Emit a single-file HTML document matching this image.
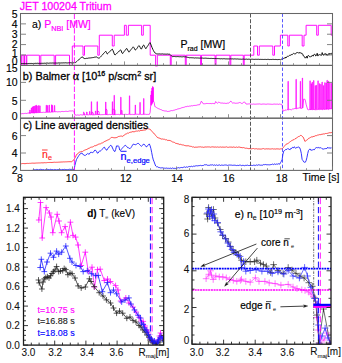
<!DOCTYPE html>
<html><head><meta charset="utf-8"><style>
html,body{margin:0;padding:0;background:#fff;}
svg{display:block;font-family:"Liberation Sans", sans-serif;}
</style></head><body>
<svg width="342" height="363" viewBox="0 0 342 363">
<rect width="342" height="363" fill="#fff"/>
<clipPath id="ca"><rect x="20.5" y="13.5" width="312.0" height="52.900000000000006"/></clipPath><clipPath id="cb"><rect x="20.5" y="65.4" width="312.0" height="52.8"/></clipPath><clipPath id="cc"><rect x="20.5" y="118.2" width="312.0" height="52.2"/></clipPath><polyline points="20.5,55.2 21.2,55.2 21.2,65.4 21.9,65.4 21.9,55.2 23.9,55.2 23.9,65.4 24.5,65.4 24.5,55.2 26.2,55.2 26.2,65.4 26.8,65.4 26.8,55.2 39.4,55.2 39.4,65.4 40.8,65.4 40.8,55.2 54.2,55.2 54.2,65.4 55.6,65.4 55.6,55.2 69.5,55.2 69.5,65.4 72.3,65.4 72.3,46 83,46 83,55.2 84.5,55.2 84.5,46 97.8,46 97.8,55.2 99.3,55.2 99.3,35.2 112.3,35.2 112.3,46 114.2,46 114.2,35.2 124.4,35.2 124.4,25.3 126.3,25.3 126.3,35.2 128.4,35.2 128.4,25.3 141.6,25.3 141.6,35.2 143.3,35.2 143.3,25.3 150.2,25.3 150.2,55.2 155.6,55.2 155.6,66.4 157.3,66.4 157.3,55.2 170.3,55.2 170.3,65.4 171.2,65.4 171.2,55.2 185.3,55.2 185.3,65.4 186.2,65.4 186.2,55.2 200.6,55.2 200.6,65.4 201.5,65.4 201.5,55.2 215.1,55.2 215.1,65.4 216,65.4 216,55.2 229.9,55.2 229.9,65.4 230.8,65.4 230.8,55.2 243.3,55.2 243.3,65.4 244.2,65.4 244.2,55.2 253.8,55.2 253.8,46 257.5,46 257.5,55.2 259.3,55.2 259.3,46 272.8,46 272.8,55.2 274.5,55.2 274.5,46 280.4,46 280.4,35.2 287.8,35.2 287.8,46 289.3,46 289.3,35.2 302.2,35.2 302.2,46 304,46 304,35.2 306.1,35.2 306.1,25.3 316.7,25.3 316.7,35.2 318.3,35.2 318.3,25.3 331.2,25.3 331.2,35.2 332.5,35.2" fill="none" stroke="#ff00ff" stroke-width="0.95" stroke-linejoin="round" clip-path="url(#ca)" stroke-linejoin="miter"/><polyline points="20.5,63.54 21.2,63.6 21.9,63.55 22.6,63.59 23.3,63.59 24,63.44 24.7,63.42 25.4,63.61 26.1,63.46 26.8,63.44 27.5,63.61 28.2,63.47 28.9,63.55 29.6,63.45 30.3,63.48 31,63.35 31.7,63.46 32.4,63.51 33.1,63.41 33.8,63.45 34.5,63.43 35.2,63.27 35.9,63.43 36.6,63.37 37.3,63.29 38,63.22 38.7,63.41 39.4,63.3 40.1,63.35 40.8,63.37 41.5,63.32 42.2,63.36 42.9,63.22 43.6,63.3 44.3,63.2 45,63.3 45.7,63.28 46.4,63.08 47.1,63.07 47.8,63.08 48.5,63.24 49.2,63.1 49.9,63.13 50.6,63.04 51.3,63.08 52,63.03 52.7,63.01 53.4,63.05 54.1,63.04 54.8,63.1 55.5,63.03 56.2,63.08 56.9,63.05 57.6,63.07 58.3,62.98 59,62.84 59.7,62.99 60.4,63.01 61.1,62.99 61.8,62.9 62.5,62.93 63.2,62.81 63.9,62.95 64.6,62.89 65.3,62.81 66,62.76 66.7,62.94 67.4,62.97 68.1,62.75 68.8,62.91 69.5,62.82 70.2,62.75 70.9,62.78 71.6,62.89 72.3,62.91 73,62.7 73.7,62.84 74.4,62.7 75.1,62.85 75.8,62.16 76.5,61.7 77.2,61.13 77.9,60.42 78.6,59.95 79.3,59.19 80,58.54 80.7,58.07 81.4,57.34 82.1,56.78 82.8,57.14 83.5,58.17 84.2,58.58 84.9,58.45 85.6,58.56 86.3,58.33 87,58.4 87.7,58.3 88.4,58.09 89.1,58.03 89.8,57.96 90.5,57.9 91.2,57.81 91.9,57.71 92.6,57.6 93.3,57.55 94,57.32 94.7,57.17 95.4,57.12 96.1,56.87 96.8,57.11 97.5,57.64 98.2,57.89 98.9,58.26 99.6,57.84 100.3,57.16 101,56.43 101.7,55.52 102.4,54.89 103.1,54.12 103.8,53.21 104.5,52.57 105.2,51.76 105.9,51.34 106.6,52.61 107.3,54.05 108,53.36 108.7,52.49 109.4,51.79 110.1,51.24 110.8,50.61 111.5,49.74 112.2,49.09 112.9,50.26 113.6,52.06 114.3,53.93 115,55.07 115.7,54.41 116.4,53.8 117.1,53.07 117.8,52.42 118.5,51.85 119.2,51.01 119.9,50.47 120.6,49.85 121.3,51.02 122,53.05 122.7,53.55 123.4,52.49 124.1,51.55 124.8,50.69 125.5,49.83 126.2,48.76 126.9,48.53 127.6,49.84 128.3,51.26 129,52.16 129.7,51.37 130.4,50.31 131.1,49.46 131.8,48.65 132.5,47.81 133.2,46.82 133.9,47.64 134.6,48.8 135.3,50.07 136,49.6 136.7,48.74 137.4,47.74 138.1,46.57 138.8,45.58 139.5,46.07 140.2,47.43 140.9,48.87 141.6,48.87 142.3,47.19 143,45.61 143.7,44.97 144.4,46.25 145.1,47.66 145.8,48.73 146.5,47.68 147.2,46.63 147.9,45.7 148.6,44.47 149.3,43.38 150,42.56 150.7,44 151.4,45.9 152.1,47.65 152.8,49.29 153.5,50.65 154.2,51.85 154.9,52.83 155.6,53.33 156.3,53.77 157,54 157.7,53.95 158.4,53.96 159.1,53.93 159.8,53.9 160.5,54.02 161.2,53.95 161.9,54.07 162.6,53.89 163.3,54.1 164,54.05 164.7,54.1 165.4,54.13 166.1,54.18 166.8,54.14 167.5,54.04 168.2,54.26 168.9,54.16 169.6,54.23 170.3,54.67 171,55.41 171.7,56.15 172.4,56.61 173.1,56.55 173.8,56.5 174.5,56.5 175.2,56.66 175.9,56.58 176.6,56.67 177.3,56.59 178,56.57 178.7,56.66 179.4,56.75 180.1,56.61 180.8,56.77 181.5,56.82 182.2,56.81 182.9,56.83 183.6,56.65 184.3,56.81 185,56.89 185.7,56.83 186.4,57.03 187.1,57.16 187.8,57.37 188.5,57.48 189.2,57.63 189.9,57.85 190.6,57.7 191.3,57.73 192,57.77 192.7,57.79 193.4,57.8 194.1,58.04 194.8,58.03 195.5,57.87 196.2,57.99 196.9,57.96 197.6,57.98 198.3,58.01 199,58.11 199.7,58.11 200.4,58.08 201.1,58.06 201.8,58.11 202.5,58.08 203.2,58.21 203.9,58.27 204.6,58.21 205.3,58.16 206,58.2 206.7,58.27 207.4,58.35 208.1,58.41 208.8,58.34 209.5,58.46 210.2,58.44 210.9,58.41 211.6,58.42 212.3,58.47 213,58.54 213.7,58.49 214.4,58.58 215.1,58.54 215.8,58.51 216.5,58.6 217.2,58.66 217.9,58.53 218.6,58.64 219.3,58.66 220,58.79 220.7,58.82 221.4,58.7 222.1,58.84 222.8,58.83 223.5,58.71 224.2,58.78 224.9,58.71 225.6,58.89 226.3,58.86 227,58.93 227.7,58.92 228.4,58.91 229.1,58.94 229.8,58.91 230.5,58.81 231.2,58.95 231.9,58.82 232.6,58.87 233.3,59.03 234,58.87 234.7,58.9 235.4,58.91 236.1,59.11 236.8,58.96 237.5,58.94 238.2,59.15 238.9,58.99 239.6,59.17 240.3,59.15 241,59.2 241.7,59.24 242.4,59.17 243.1,59.23 243.8,59.06 244.5,59.25 245.2,59.21 245.9,59.27 246.6,59.14 247.3,59.31 248,59.36 248.7,59.17 249.4,59.25 250.1,59.32 250.8,59.39 251.5,59.25 252.2,59.24 252.9,59.26 253.6,59.36 254.3,59.4 255,59.31 255.7,59.31 256.4,59.33 257.1,59.32 257.8,59.34 258.5,59.27 259.2,59.37 259.9,59.49 260.6,59.36 261.3,59.45 262,59.31 262.7,59.45 263.4,59.47 264.1,59.45 264.8,59.42 265.5,59.42 266.2,59.46 266.9,59.53 267.6,59.36 268.3,59.35 269,59.51 269.7,59.56 270.4,59.47 271.1,59.46 271.8,59.53 272.5,59.4 273.2,59.43 273.9,59.42 274.6,59.52 275.3,59.46 276,59.44 276.7,59.55 277.4,59.61 278.1,59.45 278.8,59.55 279.5,59.48 280.2,59.92 280.7,59.6 281.2,59.22 281.7,59.16 282.2,58.93 282.7,59.35 283.2,58.92 283.7,58.35 284.2,58.26 284.7,57.89 285.2,58.12 285.7,57.05 286.2,57.75 286.7,56.82 287.2,56.65 287.7,56.22 288.2,56.43 288.7,56.18 289.2,55.62 289.7,55.3 290.2,55.35 290.7,55.28 291.2,54.5 291.7,54.66 292.2,54.7 292.7,53.96 293.2,53.56 293.7,53.44 294.2,53.9 294.7,53.73 295.2,53.95 295.7,53.7 296.2,52.85 296.7,52.66 297.2,52.62 297.7,52.42 298.2,52.92 298.7,52.98 299.2,53.05 299.7,52.39 300.2,53.24 300.7,52.69 301.2,52.94 301.7,53.64 302.2,53.52 302.7,54.18 303.2,55.72 303.7,55.73 304.2,56.46 304.7,57.38 305.2,58.15 305.7,57.45 306.2,57.46 306.7,56.24 307.2,58.18 307.7,56.25 308.2,55.44 308.7,55.59 309.2,56.17 309.7,56.86 310.2,56.62 310.7,56.8 311.2,56.62 311.7,56.38 312.2,55.19 312.7,55.59 313.2,56.16 313.7,55.09 314.2,54.26 314.7,54.18 315.2,54.78 315.7,55.9 316.2,55.52 316.7,55.29 317.2,53.25 317.7,55.79 318.2,55.72 318.7,54.73 319.2,54.74 319.7,54.6 320.2,54.77 320.7,54.83 321.2,55.52 321.7,54.78 322.2,52.58 322.7,54.56 323.2,54.64 323.7,55.39 324.2,53.89 324.7,54.06 325.2,53.94 325.7,53.61 326.2,55.33 326.7,54.27 327.2,54.63 327.7,55.37 328.2,53.97 328.7,54.3 329.2,53.24 329.7,54.57 330.2,54.25 330.7,53.54 331.2,53.19 331.7,54.36 332.2,54.16" fill="none" stroke="#111" stroke-width="1.0" stroke-linejoin="round" clip-path="url(#ca)"/><polyline points="20.5,113.77 21.3,113.8 22.1,113.59 22.9,113.59 23.7,113.65 24.5,113.44 25.3,113.29 26.1,113.51 26.9,113.38 27.7,113.17 28.5,113.12 29.2,113.14 29.3,112.5 30.1,113.3 30.2,113.14 29.3,113.15 29.7,113.11 29.8,110 30.1,110 30.2,113.11 30.1,113.14 30.9,112.95 31.2,113.04 31.3,108 31.6,108 31.7,113.04 31.7,112.82 32.1,113 32.2,107 32.7,107 32.8,113 32.5,112.87 33,112.96 33.1,106.5 33.4,106.5 33.5,112.96 33.3,113.06 33.9,112.91 34,106 34.6,106.8 34.7,112.91 34.1,112.77 34.9,112.85 35,112.86 35.1,105.6 35.4,105.6 35.5,112.86 35.7,112.71 36.2,112.8 36.3,105.2 36.7,105.2 36.8,112.8 36.5,112.68 36.8,112.77 36.9,106 37.2,106 37.3,112.77 37.3,112.62 38.1,112.68 38.5,112.69 38.6,105.5 38.9,105.5 39,112.69 38.9,112.55 39.7,112.45 39.7,112.64 39.8,105.8 40.1,105.8 40.2,112.64 40.5,112.45 41.3,112.43 42.1,112.52 42.9,112.31 43.7,112.26 44.5,112.39 45.3,112.34 46.1,112.42 46.1,112.33 46.2,105.2 46.5,105.2 46.6,112.33 46.9,112.12 47.3,112.27 47.4,105.5 47.7,105.5 47.8,112.27 47.7,112.22 48.5,112.18 49,112.19 49.1,105 49.4,105 49.5,112.19 49.3,111.99 50.1,112.33 50.9,111.99 51.4,112.08 51.5,104.8 51.8,104.8 51.9,112.08 51.7,111.9 52.2,112.04 52.3,105.3 52.6,105.3 52.7,112.04 52.5,112.02 53.3,111.86 54.1,112 54.3,111.94 54.4,105.4 54.7,105.4 54.8,111.94 54.9,111.85 55.7,111.72 56.5,111.66 57.3,111.89 58.1,111.67 58.9,111.84 59.7,111.67 60.5,111.82 61.3,111.53 62.1,111.47 62.9,111.44 63.7,111.62 64.5,111.51 65.3,111.35 66.1,111.22 66.9,111.41 67.7,111.49 68.5,111.3 69.3,111.03 70.1,111 70.9,110.98 71.7,110.98 72.5,110.89 73.3,110.86 74.1,111.73 74.9,115.16 75.7,114.86 76.5,115.16 77.3,114.95 78.1,115.07 78.9,115.1 79.7,115.1 80.5,114.72 81.3,114.82 82.1,114.92 82.9,115.05 83.4,114.86 83.5,112 84.4,112.8 84.5,114.86 83.7,114.69 84.5,114.76 85.3,114.97 86.1,114.66 86.5,114.81 86.6,112 87.1,112 87.2,114.81 86.9,114.76 87.7,114.73 88.5,114.85 89.3,114.94 89.4,114.77 89.5,111.5 89.9,111.5 90,114.77 90.1,114.63 90.9,114.84 91.2,114.74 91.3,101.7 91.6,101.7 91.7,114.74 91.7,114.82 91.9,114.73 92,112 93.2,112.8 93.3,114.73 92.5,114.85 93.3,114.73 94.1,114.86 94.9,114.63 95.3,114.67 95.4,111 95.8,111 95.9,114.67 95.7,114.63 96.5,114.55 97,114.65 97.1,101.7 97.4,101.7 97.5,114.65 97.3,114.75 97.5,114.64 97.6,111 99.1,111.8 99.2,114.64 98.1,114.62 98.9,114.53 99.7,114.47 100.5,114.69 101.3,114.63 102.1,114.67 102.9,114.54 103.7,114.57 104.5,114.43 105.3,114.65 105.5,114.57 105.6,102 105.9,102 106,114.57 105.9,114.56 106,109 107,109.8 107.1,114.56 106.1,114.37 106.9,114.55 107.7,114.66 108.5,114.62 109.3,114.38 110.1,114.43 110.9,114.67 111.7,114.59 112.2,114.53 112.3,101.7 112.6,101.7 112.7,114.53 112.5,114.68 112.7,114.52 112.8,109 115,109.8 115.1,114.52 113.3,114.67 114.1,114.5 114,114.52 114.1,95.3 114.4,95.3 114.5,114.52 114.9,114.67 115.7,114.6 116.5,114.43 117.3,114.44 118.1,114.32 118.9,114.45 119.7,114.66 120.5,114.32 120.6,114.48 120.7,97.2 121,97.2 121.1,114.48 121.3,114.5 121.2,114.47 121.3,110 122.1,110.8 122.2,114.47 122.1,114.31 122.9,114.29 123.7,114.52 124.5,114.35 125.3,114.27 126.1,114.3 126.9,114.5 127.7,114.47 128.5,114.23 129.3,114.32 129.3,114.42 129.4,95.8 129.7,95.8 129.8,114.42 130.1,114.61 130.9,114.3 131.7,114.43 132.5,114.37 133.3,114.51 134.1,114.44 134.9,114.51 135.1,114.39 135.2,105 135.5,105 135.6,114.39 135.7,114.4 136.5,114.26 137.3,114.25 138.1,114.2 138.9,114.5 139.7,114.21 139.8,114.36 139.9,102.4 140.2,102.4 140.3,114.36 140.5,114.17 141.3,114.54 142.1,114.23 142.9,114.5 143.5,114.34 143.6,98.5 143.9,98.5 144,114.34 143.7,114.17 144.5,114.32 145.3,114.22 146.1,114.46 146.9,114.36 147.7,114.37 148.5,114.41 149.3,114.45 150.1,112.58 150.7,105.45 150.8,95 151.1,95 151.2,105.45 150.9,105.31 151.2,104.55 151.3,91 151.6,91 151.7,104.55 151.7,103.8 151.8,103.45 151.9,88 152.2,88 152.3,103.45 152.4,102.36 152.5,86.5 152.8,86.5 152.9,102.36 152.5,102.21 153,101.27 153.1,87.5 153.4,87.5 153.5,101.27 153.3,101.04 154.1,102.17 154.9,106.65 155.7,106.92 156.5,107.56 157.3,108.04 158.1,108.63 158.9,108.71 159.7,109.15 160.5,109.54 161.3,109.71 162.1,110.24 162.9,110.65 163.7,110.68 164.5,110.9 165.3,111.01 166.1,110.98 166.9,111.16 167.7,111.54 168.5,111.4 169.3,111.31 170.1,110.96 170.9,110.79 171.7,110.56 172.5,110.65 173.3,110.35 174.1,110.19 174.9,110.02 175.7,109.63 176.5,109.52 177.3,109.12 178.1,108.84 178.9,108.81 179.7,108.55 180.5,108.33 181.3,107.9 182.1,107.78 182.9,107.39 183.7,107.39 184.5,107.12 185.3,106.67 186.1,106.82 186.9,106.41 187.7,106.26 188.5,106.4 189.3,106.12 190.1,106.09 190.9,106.03 191.7,105.68 192.5,105.85 193.3,105.55 194.1,105.5 194.9,105.35 195.7,105.4 196.5,105.29 197.3,104.99 198.1,104.81 198.9,104.77 199.7,104.71 200.5,103.23 201.3,101.18 202.1,102.03 202.9,103.49 203.7,103.78 204.5,103.78 205.3,103.73 206.1,103.52 206.9,103.43 207.7,103.49 208.5,103.54 209.3,103.56 210.1,103.56 210.9,103.48 211.7,103.67 212.5,103.43 213.3,103.5 214.1,103.66 214.9,103.62 215.7,101.52 216.5,102.54 217.3,103.26 218.1,102.5 218.9,102.11 219.7,102.56 220.5,102.96 221.3,103.07 222.1,103.02 222.9,103.08 223.7,103.31 224.5,103.19 225.3,103.39 226.1,103.32 226.9,103.42 227.7,103.07 228.5,103.16 229.3,102.66 230.1,101.66 230.9,101.07 231.7,102.31 232.5,103.04 233.3,102.9 234.1,103.03 234.9,103.04 235.7,103.31 236.5,103.19 237.3,103.17 238.1,103.07 238.9,102.82 239.7,102.5 240.5,102.7 241.3,103.31 242.1,103.65 242.9,102.87 243.7,102.26 244.5,101.94 245.3,102.88 246.1,104 246.9,104.14 247.7,104.03 248.5,103.93 249.3,103.89 250.1,103.83 250.9,104.08 251.7,104.19 252.5,104.2 253.3,104.03 254.1,104.11 254.9,104.22 255.7,104.18 256.5,104.1 257.3,104.03 258.1,104.07 258.9,103.94 259.7,103.95 260.5,104.15 261.3,104.28 262.1,104.11 262.9,104.06 263.7,104.04 264.5,104.08 265.3,104.23 266.1,104.09 266.9,104.3 267.7,103.98 268.5,104.05 269.3,104.14 270.1,104.1 270.9,104.28 271.7,104.27 272.5,104.32 273.3,104.2 274.1,103.97 274.9,104.19 275.7,104.18 276.5,104.16 277.3,104.09 278.1,104.26 278.9,104.35 279.7,104.03 280.5,104.26 281.3,104.14 282.1,105.01 282.9,110.98 283.7,110.92 284.5,110.48 285.3,109.91 286.1,110.52 286.9,109.65 287.7,109.73 287.9,109.81 288,81.3 288.3,81.3 288.4,109.81 288.5,110.06 289.3,109.42 290.1,109.26 290.9,109.83 291.7,109.72 292.5,108.99 293.3,108.96 294.1,108.75 294.9,108.49 295.7,108.51 295.9,108.72 296,79.3 296.3,79.3 296.4,108.72 296.5,109.14 297.3,108.13 298.1,108.18 298.9,108.04 299.7,107.82 300.2,108.18 300.3,81.3 300.6,81.3 300.7,108.18 300.5,108.19 301.3,108.35 302.1,108.39 302.2,108.04 302.3,78 302.6,78 302.7,108.04 302.9,106.77 303.7,99.02 304.5,99.01 305.3,100.08 306.1,104.26 306.9,107.09 307.7,109.56 308.5,109.75 309.3,109.51 309.84,109.72 309.94,80.81 310.24,80.81 310.34,109.72 310.1,109.76 310.9,109.24 311.13,109.68 311.23,83.74 311.53,83.74 311.63,109.68 311.7,109.4 312.03,109.65 312.13,82.16 312.43,82.16 312.53,109.65 312.5,110.1 313.3,109.26 313.49,109.61 313.59,80.47 313.89,80.47 313.99,109.61 314.1,109.99 314.9,109.24 315.02,109.56 315.12,85.58 315.42,85.58 315.52,109.56 315.7,110.03 316.24,109.52 316.34,85.22 316.64,85.22 316.74,109.52 316.5,109.69 317.3,109.63 317.82,109.47 317.92,80.81 318.22,80.81 318.32,109.47 318.1,109.1 318.9,108.99 319.26,109.42 319.36,83.61 319.66,83.61 319.76,109.42 319.7,109.67 320.5,109.06 320.66,109.38 320.76,84.3 321.06,84.3 321.16,109.38 321.3,109.05 321.89,109.34 321.99,82.06 322.29,82.06 322.39,109.34 322.1,109.66 322.9,109.68 323.28,109.29 323.38,85.59 323.68,85.59 323.78,109.29 323.7,108.83 324.5,109.72 324.67,109.25 324.77,82.62 325.07,82.62 325.17,109.25 325.3,109.27 325.95,109.21 326.05,82.91 326.35,82.91 326.45,109.21 326.1,109.09 326.9,108.79 326.92,109.18 327.02,80.26 327.32,80.26 327.42,109.18 327.7,109.04 328.25,109.13 328.35,81.2 328.65,81.2 328.75,109.13 328.5,109.62 329.3,108.88 329.65,109.09 329.75,82.98 330.05,82.98 330.15,109.09 330.1,108.71 330.9,108.7 331.32,109.03 331.42,83.22 331.72,83.22 331.82,109.03 331.7,108.65" fill="none" stroke="#ff00ff" stroke-width="0.75" stroke-linejoin="round" clip-path="url(#cb)"/><polyline points="20.5,163.67 21.4,163.74 22.3,163.55 23.2,163.53 24.1,163.63 25,163.61 25.9,163.57 26.8,163.4 27.7,163.38 28.6,163.45 29.5,163.33 30.4,163.33 31.3,163.23 32.2,163.14 33.1,163.16 34,163.19 34.9,163.16 35.8,163.09 36.7,163.03 37.6,163.01 38.5,162.96 39.4,162.94 40.3,162.95 41.2,162.8 42.1,162.84 43,162.86 43.9,162.81 44.8,162.65 45.7,162.76 46.6,162.7 47.5,162.54 48.4,162.52 49.3,162.47 50.2,162.41 51.1,162.54 52,162.4 52.9,162.45 53.8,162.27 54.7,162.22 55.6,162.34 56.5,162.28 57.4,162.28 58.3,162.19 59.2,162.13 60.1,162.13 61,161.98 61.9,162.02 62.8,161.96 63.7,161.87 64.6,161.92 65.5,161.83 66.4,161.83 67.3,161.77 68.2,161.72 69.1,161.69 70,161.7 70.9,161.73 71.8,161.69 72.7,160.97 73.6,160.06 74.5,158.67 75.4,157.29 76.3,155.06 77.2,153.97 78.1,153.3 79,152.54 79.9,151.86 80.8,151.83 81.7,151.39 82.6,151.48 83.5,150.72 84.4,150.29 85.3,149.87 86.2,149.62 87.1,149.29 88,148.64 88.9,148.22 89.8,147.96 90.7,147.26 91.6,147.1 92.5,146.98 93.4,146.57 94.3,145.78 95.2,145.9 96.1,145.26 97,145.26 97.9,144.53 98.8,144.08 99.7,143.93 100.6,143.77 101.5,143.11 102.4,142.93 103.3,142.39 104.2,141.74 105.1,141.26 106,140.94 106.9,140.43 107.8,139.97 108.7,139.64 109.6,139.12 110.5,138.28 111.4,137.36 112.3,137.42 113.2,137.62 114.1,137.86 115,137.68 115.9,137.75 116.8,137.47 117.7,137.02 118.6,136.45 119.5,136.33 120.4,136.14 121.3,135.97 122.2,136.54 123.1,135.94 124,135.28 124.9,134.67 125.8,133.94 126.7,133.74 127.6,133.06 128.5,133.18 129.4,132.53 130.3,132.25 131.2,132.21 132.1,131.74 133,131.58 133.9,131.85 134.8,131.61 135.7,131.19 136.6,131.05 137.5,131.11 138.4,130.76 139.3,131.11 140.2,130.57 141.1,130.48 142,130.39 142.9,130.3 143.8,130.09 144.7,130.04 145.6,129.9 146.5,129.33 147.4,128.69 148.3,128.78 149.2,129.03 150.1,129.32 151,130.2 151.9,131.25 152.8,132.51 153.7,133.07 154.6,134.11 155.5,135.33 156.4,136.22 157.3,137.44 158.2,137.83 159.1,137.97 160,138.45 160.9,138.8 161.8,139.17 162.7,138.96 163.6,139.26 164.5,139.27 165.4,139.8 166.3,139.62 167.2,140.36 168.1,140.31 169,140.53 169.9,140.43 170.8,140.87 171.7,141.38 172.6,141.99 173.5,142.17 174.4,142.39 175.3,143.18 176.2,143.35 177.1,143.65 178,143.82 178.9,144.05 179.8,144.59 180.7,144.3 181.6,144.72 182.5,144.94 183.4,144.96 184.3,145.38 185.2,145.64 186.1,145.78 187,145.89 187.9,145.74 188.8,145.83 189.7,146.23 190.6,146.33 191.5,146.43 192.4,147.01 193.3,146.79 194.2,147.29 195.1,147.36 196,146.87 196.9,147.35 197.8,147.04 198.7,146.93 199.6,146.91 200.5,146.82 201.4,147.1 202.3,147.03 203.2,147.31 204.1,147.3 205,146.83 205.9,147.04 206.8,147.03 207.7,146.91 208.6,146.95 209.5,146.96 210.4,147.22 211.3,147 212.2,146.87 213.1,146.93 214,147.07 214.9,147.14 215.8,146.95 216.7,147.22 217.6,146.93 218.5,147.2 219.4,147.17 220.3,146.91 221.2,147.25 222.1,147.04 223,147.12 223.9,147.16 224.8,147.18 225.7,147.07 226.6,146.83 227.5,147.27 228.4,147.32 229.3,147.09 230.2,147.15 231.1,146.96 232,147.34 232.9,147.21 233.8,146.93 234.7,147.29 235.6,147.39 236.5,147.01 237.4,147.4 238.3,147.09 239.2,146.98 240.1,147.43 241,147.33 241.9,147.69 242.8,147.73 243.7,147.57 244.6,147.95 245.5,148.27 246.4,148.18 247.3,148.34 248.2,148.66 249.1,148.54 250,148.7 250.9,148.76 251.8,148.92 252.7,148.56 253.6,148.5 254.5,148.91 255.4,148.8 256.3,148.66 257.2,149.03 258.1,149.03 259,148.84 259.9,149.12 260.8,149.04 261.7,149 262.6,148.73 263.5,148.58 264.4,148.99 265.3,149.03 266.2,148.81 267.1,148.9 268,148.97 268.9,148.79 269.8,149.07 270.7,149 271.6,148.9 272.5,148.75 273.4,149.02 274.3,148.9 275.2,149.15 276.1,148.83 277,148.97 277.9,148.87 278.8,149 279.7,149.12 280.6,148.85 281.5,148.83 282.4,148.63 283.3,147.43 284.2,146.57 285.1,145.34 286,144.26 286.9,143.94 287.8,143.58 288.7,142.97 289.6,142.17 290.5,141.53 291.4,140.79 292.3,140.36 293.2,139.84 294.1,139.67 295,138.62 295.9,138.58 296.8,137.74 297.7,137.17 298.6,136.52 299.5,136.39 300.4,135.38 301.3,135.51 302.2,136.29 303.1,137.03 304,138.98 304.9,141.38 305.8,140.87 306.7,140.15 307.6,139.57 308.5,138.4 309.4,138.08 310.3,137.56 311.2,136.98 312.1,136.84 313,136.88 313.9,136.23 314.8,136.22 315.7,135.59 316.6,135.62 317.5,135.11 318.4,134.99 319.3,134.63 320.2,134.69 321.1,134.47 322,134.18 322.9,134.15 323.8,133.85 324.7,133.93 325.6,133.46 326.5,133.49 327.4,133.37 328.3,133.1 329.2,132.76 330.1,132.69 331,132.82 331.9,132.42" fill="none" stroke="#ff2020" stroke-width="0.8" stroke-linejoin="round" clip-path="url(#cc)"/><polyline points="20.5,171.68 21.3,171.47 22.1,171.75 22.9,171.64 23.7,171.52 24.5,171.24 25.3,170.97 26.1,171.3 26.9,171.39 27.7,171.48 28.5,170.94 29.3,170.88 30.1,171.42 30.9,171.22 31.7,171 32.5,170.52 33.3,169.45 34.1,169.73 34.9,169.81 35.7,169.77 36.5,169.45 37.3,169.44 38.1,169.77 38.9,169.95 39.7,169.43 40.5,169.34 41.3,169.39 42.1,169.88 42.9,169.6 43.7,169.64 44.5,170.02 45.3,169.75 46.1,169.5 46.9,169.81 47.7,169.32 48.5,169.51 49.3,169.8 50.1,169.43 50.9,169.33 51.7,169.67 52.5,169.53 53.3,169.98 54.1,169.37 54.9,169.86 55.7,169.57 56.5,169.86 57.3,169.6 58.1,169.76 58.9,169.52 59.7,169.44 60.5,169.6 61.3,169.84 62.1,169.52 62.9,169.44 63.7,169.57 64.5,169.34 65.3,169.49 66.1,169.67 66.9,169.65 67.7,169.68 68.5,169.47 69.3,169.28 70.1,169.28 70.9,169.49 71.7,169.39 72.5,169.65 73.3,169.44 74.1,170.18 74.9,165.27 75.7,162.22 76.5,159.41 77.3,158.05 78.1,156.77 78.9,155.47 79.7,154.29 80.5,154.01 81.3,153 82.1,153.12 82.9,154.5 83.7,154.8 84.5,155.34 85.3,155.56 86.1,154.54 86.9,154.35 87.7,153.44 88.5,154.03 89.3,154.15 90.1,152.74 90.9,152.2 91.7,152.41 92.5,152.62 93.3,152.3 94.1,151.14 94.9,150.06 95.7,150.37 96.5,151.35 97.3,153.16 98.1,153.01 98.9,151.83 99.7,150.83 100.5,150.98 101.3,150.34 102.1,149.5 102.9,148.42 103.7,147.46 104.5,147.23 105.3,148.89 106.1,149.82 106.9,150.23 107.7,148.49 108.5,148.02 109.3,146.62 110.1,145.69 110.9,145.29 111.7,145.98 112.5,148 113.3,149.68 114.1,151.12 114.9,151.59 115.7,149.36 116.5,145.91 117.3,146.22 118.1,145.55 118.9,146.69 119.7,150.03 120.5,150.64 121.3,149.23 122.1,148.38 122.9,147.47 123.7,146.57 124.5,145.85 125.3,145.37 126.1,145.77 126.9,146.76 127.7,147.72 128.5,147.8 129.3,148.36 130.1,148.63 130.9,147.72 131.7,146.5 132.5,145.13 133.3,144.09 134.1,144.3 134.9,144.65 135.7,144.86 136.5,144.06 137.3,143.58 138.1,143.21 138.9,143.84 139.7,144.61 140.5,145.58 141.3,146.32 142.1,145.58 142.9,145 143.7,144.03 144.5,144.47 145.3,145.6 146.1,146.78 146.9,146.71 147.7,145.42 148.5,144.88 149.3,143.88 150.1,145.72 150.9,148.62 151.7,152.56 152.5,156.78 153.3,159.88 154.1,161.81 154.9,164.04 155.7,166.01 156.5,166.77 157.3,166.61 158.1,167.35 158.9,167.43 159.7,167.64 160.5,167.91 161.3,167.88 162.1,167.74 162.9,167.9 163.7,168.1 164.5,168.17 165.3,168.33 166.1,167.85 166.9,168.35 167.7,168.31 168.5,168.27 169.3,168.48 170.1,167.91 170.9,168.38 171.7,168.49 172.5,167.97 173.3,168.32 174.1,168.59 174.9,168.15 175.7,168.47 176.5,168.42 177.3,168 178.1,167.71 178.9,167.67 179.7,168.01 180.5,167.64 181.3,167.48 182.1,167.48 182.9,167.73 183.7,167.17 184.5,166.92 185.3,167.48 186.1,166.95 186.9,166.91 187.7,167.24 188.5,166.66 189.3,166.44 190.1,166.91 190.9,166.37 191.7,166.27 192.5,166.68 193.3,166.1 194.1,166.48 194.9,165.99 195.7,165.89 196.5,165.74 197.3,165.88 198.1,165.8 198.9,165.6 199.7,165.59 200.5,165.35 201.3,165.64 202.1,165.62 202.9,165.41 203.7,165.37 204.5,164.75 205.3,164.83 206.1,164.8 206.9,164.78 207.7,165.36 208.5,165.32 209.3,165.34 210.1,165.1 210.9,164.8 211.7,165.02 212.5,164.77 213.3,165.38 214.1,164.94 214.9,164.96 215.7,165.43 216.5,164.92 217.3,165.43 218.1,165.01 218.9,165.27 219.7,164.89 220.5,165.45 221.3,165.11 222.1,165.08 222.9,165.31 223.7,165.27 224.5,165.04 225.3,164.96 226.1,165.29 226.9,164.91 227.7,165.51 228.5,165.15 229.3,165.04 230.1,165.16 230.9,165.02 231.7,165.17 232.5,165.34 233.3,165.25 234.1,165.21 234.9,165.19 235.7,165.33 236.5,165.55 237.3,165.32 238.1,165.56 238.9,165.36 239.7,165.12 240.5,165.16 241.3,165.65 242.1,165.4 242.9,165.34 243.7,165.44 244.5,165.68 245.3,165.36 246.1,165.36 246.9,165.37 247.7,165.13 248.5,165.51 249.3,165.48 250.1,165.49 250.9,165.42 251.7,165.4 252.5,165.53 253.3,165.12 254.1,165.63 254.9,164.99 255.7,165.47 256.5,164.95 257.3,165.34 258.1,164.93 258.9,164.76 259.7,165.04 260.5,165.21 261.3,165.18 262.1,165.16 262.9,165.19 263.7,164.5 264.5,164.69 265.3,164.46 266.1,164.87 266.9,164.62 267.7,164.79 268.5,164.78 269.3,164.88 270.1,164.62 270.9,164.72 271.7,164.45 272.5,164.08 273.3,164.61 274.1,164.01 274.9,163.97 275.7,164.45 276.5,164.02 277.3,164.25 278.1,163.77 278.9,163.85 279.7,164.17 280.5,162.68 281.3,161.41 282.1,159.71 282.9,154.4 283.7,151.16 284.5,150.58 285.3,149.74 286.1,149.43 286.9,149.46 287.7,148.54 288.5,148.94 289.3,149.43 290.1,149.75 290.9,148.24 291.7,148.46 292.5,147.32 293.3,147.92 294.1,146.8 294.9,147.3 295.7,148.42 296.5,147.42 297.3,147.5 298.1,146.77 298.9,147.33 299.7,147.69 300.5,149.84 301.3,153.43 302.1,159.35 302.9,160.5 303.7,161.87 304.5,162.23 305.3,162.25 306.1,160.7 306.9,157.65 307.7,153.61 308.5,150.43 309.3,149.47 310.1,148.95 310.9,150.32 311.7,150.07 312.5,149.91 313.3,149.5 314.1,149.96 314.9,148.74 315.7,148.01 316.5,147.55 317.3,147.71 318.1,147.88 318.9,147.29 319.7,147.97 320.5,147.73 321.3,147.92 322.1,148.71 322.9,149.1 323.7,149.06 324.5,148.74 325.3,148.65 326.1,148.44 326.9,148.61 327.7,147.26 328.5,148.14 329.3,147.55 330.1,148.56 330.9,147.52 331.7,148.32" fill="none" stroke="#0000ff" stroke-width="0.8" stroke-linejoin="round" clip-path="url(#cc)"/><line x1="74.4" y1="13.5" x2="74.4" y2="170.4" stroke="#ff00ff" stroke-width="0.9" stroke-dasharray="5.5 1.8"/><line x1="250.5" y1="13.5" x2="250.5" y2="170.4" stroke="#444" stroke-width="0.9" stroke-dasharray="4 1.7"/><line x1="282.5" y1="13.5" x2="282.5" y2="170.4" stroke="#3030ff" stroke-width="0.8" stroke-dasharray="3.4 2"/><rect x="20.5" y="13.5" width="312.0" height="51.900000000000006" fill="none" stroke="#666" stroke-width="1.05"/><rect x="20.5" y="65.4" width="312.0" height="52.8" fill="none" stroke="#666" stroke-width="1.05"/><rect x="20.5" y="118.2" width="312.0" height="52.2" fill="none" stroke="#666" stroke-width="1.05"/><line x1="20.5" y1="65.4" x2="20.5" y2="61.4" stroke="#777" stroke-width="0.8" /><line x1="33.5" y1="65.4" x2="33.5" y2="63.2" stroke="#777" stroke-width="0.8" /><line x1="46.5" y1="65.4" x2="46.5" y2="63.2" stroke="#777" stroke-width="0.8" /><line x1="59.5" y1="65.4" x2="59.5" y2="63.2" stroke="#777" stroke-width="0.8" /><line x1="72.5" y1="65.4" x2="72.5" y2="61.4" stroke="#777" stroke-width="0.8" /><line x1="85.5" y1="65.4" x2="85.5" y2="63.2" stroke="#777" stroke-width="0.8" /><line x1="98.5" y1="65.4" x2="98.5" y2="63.2" stroke="#777" stroke-width="0.8" /><line x1="111.5" y1="65.4" x2="111.5" y2="63.2" stroke="#777" stroke-width="0.8" /><line x1="124.5" y1="65.4" x2="124.5" y2="61.4" stroke="#777" stroke-width="0.8" /><line x1="137.5" y1="65.4" x2="137.5" y2="63.2" stroke="#777" stroke-width="0.8" /><line x1="150.5" y1="65.4" x2="150.5" y2="63.2" stroke="#777" stroke-width="0.8" /><line x1="163.5" y1="65.4" x2="163.5" y2="63.2" stroke="#777" stroke-width="0.8" /><line x1="176.5" y1="65.4" x2="176.5" y2="61.4" stroke="#777" stroke-width="0.8" /><line x1="189.5" y1="65.4" x2="189.5" y2="63.2" stroke="#777" stroke-width="0.8" /><line x1="202.5" y1="65.4" x2="202.5" y2="63.2" stroke="#777" stroke-width="0.8" /><line x1="215.5" y1="65.4" x2="215.5" y2="63.2" stroke="#777" stroke-width="0.8" /><line x1="228.5" y1="65.4" x2="228.5" y2="61.4" stroke="#777" stroke-width="0.8" /><line x1="241.5" y1="65.4" x2="241.5" y2="63.2" stroke="#777" stroke-width="0.8" /><line x1="254.5" y1="65.4" x2="254.5" y2="63.2" stroke="#777" stroke-width="0.8" /><line x1="267.5" y1="65.4" x2="267.5" y2="63.2" stroke="#777" stroke-width="0.8" /><line x1="280.5" y1="65.4" x2="280.5" y2="61.4" stroke="#777" stroke-width="0.8" /><line x1="293.5" y1="65.4" x2="293.5" y2="63.2" stroke="#777" stroke-width="0.8" /><line x1="306.5" y1="65.4" x2="306.5" y2="63.2" stroke="#777" stroke-width="0.8" /><line x1="319.5" y1="65.4" x2="319.5" y2="63.2" stroke="#777" stroke-width="0.8" /><line x1="332.5" y1="65.4" x2="332.5" y2="61.4" stroke="#777" stroke-width="0.8" /><line x1="20.5" y1="118.2" x2="20.5" y2="114.2" stroke="#777" stroke-width="0.8" /><line x1="33.5" y1="118.2" x2="33.5" y2="116" stroke="#777" stroke-width="0.8" /><line x1="46.5" y1="118.2" x2="46.5" y2="116" stroke="#777" stroke-width="0.8" /><line x1="59.5" y1="118.2" x2="59.5" y2="116" stroke="#777" stroke-width="0.8" /><line x1="72.5" y1="118.2" x2="72.5" y2="114.2" stroke="#777" stroke-width="0.8" /><line x1="85.5" y1="118.2" x2="85.5" y2="116" stroke="#777" stroke-width="0.8" /><line x1="98.5" y1="118.2" x2="98.5" y2="116" stroke="#777" stroke-width="0.8" /><line x1="111.5" y1="118.2" x2="111.5" y2="116" stroke="#777" stroke-width="0.8" /><line x1="124.5" y1="118.2" x2="124.5" y2="114.2" stroke="#777" stroke-width="0.8" /><line x1="137.5" y1="118.2" x2="137.5" y2="116" stroke="#777" stroke-width="0.8" /><line x1="150.5" y1="118.2" x2="150.5" y2="116" stroke="#777" stroke-width="0.8" /><line x1="163.5" y1="118.2" x2="163.5" y2="116" stroke="#777" stroke-width="0.8" /><line x1="176.5" y1="118.2" x2="176.5" y2="114.2" stroke="#777" stroke-width="0.8" /><line x1="189.5" y1="118.2" x2="189.5" y2="116" stroke="#777" stroke-width="0.8" /><line x1="202.5" y1="118.2" x2="202.5" y2="116" stroke="#777" stroke-width="0.8" /><line x1="215.5" y1="118.2" x2="215.5" y2="116" stroke="#777" stroke-width="0.8" /><line x1="228.5" y1="118.2" x2="228.5" y2="114.2" stroke="#777" stroke-width="0.8" /><line x1="241.5" y1="118.2" x2="241.5" y2="116" stroke="#777" stroke-width="0.8" /><line x1="254.5" y1="118.2" x2="254.5" y2="116" stroke="#777" stroke-width="0.8" /><line x1="267.5" y1="118.2" x2="267.5" y2="116" stroke="#777" stroke-width="0.8" /><line x1="280.5" y1="118.2" x2="280.5" y2="114.2" stroke="#777" stroke-width="0.8" /><line x1="293.5" y1="118.2" x2="293.5" y2="116" stroke="#777" stroke-width="0.8" /><line x1="306.5" y1="118.2" x2="306.5" y2="116" stroke="#777" stroke-width="0.8" /><line x1="319.5" y1="118.2" x2="319.5" y2="116" stroke="#777" stroke-width="0.8" /><line x1="332.5" y1="118.2" x2="332.5" y2="114.2" stroke="#777" stroke-width="0.8" /><line x1="20.5" y1="170.4" x2="20.5" y2="166.4" stroke="#777" stroke-width="0.8" /><line x1="33.5" y1="170.4" x2="33.5" y2="168.2" stroke="#777" stroke-width="0.8" /><line x1="46.5" y1="170.4" x2="46.5" y2="168.2" stroke="#777" stroke-width="0.8" /><line x1="59.5" y1="170.4" x2="59.5" y2="168.2" stroke="#777" stroke-width="0.8" /><line x1="72.5" y1="170.4" x2="72.5" y2="166.4" stroke="#777" stroke-width="0.8" /><line x1="85.5" y1="170.4" x2="85.5" y2="168.2" stroke="#777" stroke-width="0.8" /><line x1="98.5" y1="170.4" x2="98.5" y2="168.2" stroke="#777" stroke-width="0.8" /><line x1="111.5" y1="170.4" x2="111.5" y2="168.2" stroke="#777" stroke-width="0.8" /><line x1="124.5" y1="170.4" x2="124.5" y2="166.4" stroke="#777" stroke-width="0.8" /><line x1="137.5" y1="170.4" x2="137.5" y2="168.2" stroke="#777" stroke-width="0.8" /><line x1="150.5" y1="170.4" x2="150.5" y2="168.2" stroke="#777" stroke-width="0.8" /><line x1="163.5" y1="170.4" x2="163.5" y2="168.2" stroke="#777" stroke-width="0.8" /><line x1="176.5" y1="170.4" x2="176.5" y2="166.4" stroke="#777" stroke-width="0.8" /><line x1="189.5" y1="170.4" x2="189.5" y2="168.2" stroke="#777" stroke-width="0.8" /><line x1="202.5" y1="170.4" x2="202.5" y2="168.2" stroke="#777" stroke-width="0.8" /><line x1="215.5" y1="170.4" x2="215.5" y2="168.2" stroke="#777" stroke-width="0.8" /><line x1="228.5" y1="170.4" x2="228.5" y2="166.4" stroke="#777" stroke-width="0.8" /><line x1="241.5" y1="170.4" x2="241.5" y2="168.2" stroke="#777" stroke-width="0.8" /><line x1="254.5" y1="170.4" x2="254.5" y2="168.2" stroke="#777" stroke-width="0.8" /><line x1="267.5" y1="170.4" x2="267.5" y2="168.2" stroke="#777" stroke-width="0.8" /><line x1="280.5" y1="170.4" x2="280.5" y2="166.4" stroke="#777" stroke-width="0.8" /><line x1="293.5" y1="170.4" x2="293.5" y2="168.2" stroke="#777" stroke-width="0.8" /><line x1="306.5" y1="170.4" x2="306.5" y2="168.2" stroke="#777" stroke-width="0.8" /><line x1="319.5" y1="170.4" x2="319.5" y2="168.2" stroke="#777" stroke-width="0.8" /><line x1="332.5" y1="170.4" x2="332.5" y2="166.4" stroke="#777" stroke-width="0.8" /><line x1="20.5" y1="54.94" x2="26" y2="54.94" stroke="#777" stroke-width="0.9" /><line x1="332.5" y1="54.94" x2="327" y2="54.94" stroke="#777" stroke-width="0.9" /><line x1="20.5" y1="44.58" x2="26" y2="44.58" stroke="#777" stroke-width="0.9" /><line x1="332.5" y1="44.58" x2="327" y2="44.58" stroke="#777" stroke-width="0.9" /><line x1="20.5" y1="34.22" x2="26" y2="34.22" stroke="#777" stroke-width="0.9" /><line x1="332.5" y1="34.22" x2="327" y2="34.22" stroke="#777" stroke-width="0.9" /><line x1="20.5" y1="23.86" x2="26" y2="23.86" stroke="#777" stroke-width="0.9" /><line x1="332.5" y1="23.86" x2="327" y2="23.86" stroke="#777" stroke-width="0.9" /><line x1="20.5" y1="100.3" x2="26" y2="100.3" stroke="#777" stroke-width="0.9" /><line x1="332.5" y1="100.3" x2="327" y2="100.3" stroke="#777" stroke-width="0.9" /><line x1="20.5" y1="82.4" x2="26" y2="82.4" stroke="#777" stroke-width="0.9" /><line x1="332.5" y1="82.4" x2="327" y2="82.4" stroke="#777" stroke-width="0.9" /><line x1="20.5" y1="153" x2="26" y2="153" stroke="#777" stroke-width="0.9" /><line x1="332.5" y1="153" x2="327" y2="153" stroke="#777" stroke-width="0.9" /><line x1="20.5" y1="135.6" x2="26" y2="135.6" stroke="#777" stroke-width="0.9" /><line x1="332.5" y1="135.6" x2="327" y2="135.6" stroke="#777" stroke-width="0.9" /><text x="17.6" y="17.9" font-size="10.5" fill="#000" stroke="#000" stroke-width="0.14" text-anchor="end" >5</text><text x="17.6" y="28.2" font-size="10.5" fill="#000" stroke="#000" stroke-width="0.14" text-anchor="end" >4</text><text x="17.6" y="38.4" font-size="10.5" fill="#000" stroke="#000" stroke-width="0.14" text-anchor="end" >3</text><text x="17.6" y="48.4" font-size="10.5" fill="#000" stroke="#000" stroke-width="0.14" text-anchor="end" >2</text><text x="17.6" y="56.6" font-size="10.5" fill="#000" stroke="#000" stroke-width="0.14" text-anchor="end" >1</text><text x="17.6" y="64.6" font-size="10.5" fill="#000" stroke="#000" stroke-width="0.14" text-anchor="end" >0</text><text x="17.6" y="71.7" font-size="10.5" fill="#000" stroke="#000" stroke-width="0.14" text-anchor="end" >15</text><text x="17.6" y="86.3" font-size="10.5" fill="#000" stroke="#000" stroke-width="0.14" text-anchor="end" >10</text><text x="17.6" y="104.6" font-size="10.5" fill="#000" stroke="#000" stroke-width="0.14" text-anchor="end" >5</text><text x="17.6" y="119.9" font-size="10.5" fill="#000" stroke="#000" stroke-width="0.14" text-anchor="end" >0</text><text x="17.6" y="139.5" font-size="10.5" fill="#000" stroke="#000" stroke-width="0.14" text-anchor="end" >6</text><text x="17.6" y="156.8" font-size="10.5" fill="#000" stroke="#000" stroke-width="0.14" text-anchor="end" >4</text><text x="17.6" y="173.5" font-size="10.5" fill="#000" stroke="#000" stroke-width="0.14" text-anchor="end" >2</text><text x="19.9" y="181.6" font-size="10.5" fill="#000" stroke="#000" stroke-width="0.14" text-anchor="middle" >8</text><text x="71.7" y="181.6" font-size="10.5" fill="#000" stroke="#000" stroke-width="0.14" text-anchor="middle" >10</text><text x="125.8" y="181.6" font-size="10.5" fill="#000" stroke="#000" stroke-width="0.14" text-anchor="middle" >12</text><text x="177" y="181.6" font-size="10.5" fill="#000" stroke="#000" stroke-width="0.14" text-anchor="middle" >14</text><text x="228.7" y="181.6" font-size="10.5" fill="#000" stroke="#000" stroke-width="0.14" text-anchor="middle" >16</text><text x="281.7" y="181.6" font-size="10.5" fill="#000" stroke="#000" stroke-width="0.14" text-anchor="middle" >18</text><text x="302.4" y="181.4" font-size="10.5" fill="#000" stroke="#000" stroke-width="0.14" text-anchor="start" >Time [s]</text><text x="19.8" y="9.8" font-size="10.62" fill="#ff00ff" stroke="#ff00ff" stroke-width="0.28" text-anchor="start" >JET 100204 Tritium</text><text x="31.9" y="28" font-size="10.5" fill="#000" stroke="#000" stroke-width="0.12" text-anchor="start" >a)</text><text x="44.2" y="28" font-size="10.5" fill="#ff00ff" stroke="#ff00ff" stroke-width="0.22" text-anchor="start" >P<tspan font-size="7.3" dy="3.0">NBI</tspan><tspan dy="-3.0"> [MW]</tspan></text><text x="180.5" y="47.9" font-size="10.5" fill="#000" stroke="#000" stroke-width="0.18" text-anchor="start" >P<tspan font-size="7" dy="2.8">rad</tspan><tspan dy="-2.8"> [MW]</tspan></text><text x="22.8" y="80.3" font-size="10.85" fill="#000" stroke="#000" stroke-width="0.28" text-anchor="start" >b) Balmer <tspan font-family="Liberation Serif" font-size="12">α</tspan> [10<tspan font-size="7.2" dy="-4.3">16</tspan><tspan dy="4.3"> p/scm</tspan><tspan font-size="7.2" dy="-4.3">2</tspan><tspan dy="4.3"> sr]</tspan></text><text x="23.2" y="129.2" font-size="10.72" fill="#000" stroke="#000" stroke-width="0.28" text-anchor="start" >c) Line averaged densities</text><text x="42.1" y="157.6" font-size="10.5" fill="#ff2020" stroke="#ff2020" stroke-width="0.15" text-anchor="start" >n<tspan font-size="7.2" dy="2.6">e</tspan></text><line x1="42" y1="150" x2="47.6" y2="150" stroke="#ff2020" stroke-width="0.9" /><text x="120.6" y="159.9" font-size="10.8" fill="#0000ff" stroke="#0000ff" stroke-width="0.2" text-anchor="start" >n<tspan font-size="7.6" dy="2.8">e,edge</tspan></text><line x1="120.6" y1="151.3" x2="126.6" y2="151.3" stroke="#0000ff" stroke-width="0.9" /><clipPath id="cd"><rect x="23.5" y="197.3" width="140.2" height="147.8"/></clipPath><clipPath id="ce"><rect x="192.0" y="197.3" width="139.0" height="146.89999999999998"/></clipPath><polyline points="38.8,220 40.5,202.5 42.2,238 46.1,207.6 49.5,213 51,217 52.8,232.7 57.2,214.3 59,221 61.6,232.7 65.1,226.6 67.7,237 70.4,222.2 73,235.4 75.6,237.1 78.1,245 81.2,265.5 85.3,252.2 88.3,271.6 92,267.2 94.5,287 97.5,269.6 100.2,269.2 104.3,280.5 107.5,279 110.5,281.5 115.6,285.6 118,290 120.7,301 125.8,297.9 129,303 133,307.1 136,312 139.1,317.3 141,321 143.2,321.4 145,326 147,330 148.5,333 150,338 151.5,340 153,342 156,343 158,340 159.5,336 160.5,333 162,338" fill="none" stroke="#ff00ff" stroke-width="0.75" stroke-linejoin="round" clip-path="url(#cd)"/><path d="M35.9,220h5.8M38.8,217.1v5.8M37.6,202.5h5.8M40.5,199.6v5.8M39.3,238h5.8M42.2,235.1v5.8M43.2,207.6h5.8M46.1,204.7v5.8M46.6,213h5.8M49.5,210.1v5.8M48.1,217h5.8M51,214.1v5.8M49.9,232.7h5.8M52.8,229.8v5.8M54.3,214.3h5.8M57.2,211.4v5.8M56.1,221h5.8M59,218.1v5.8M58.7,232.7h5.8M61.6,229.8v5.8M62.2,226.6h5.8M65.1,223.7v5.8M64.8,237h5.8M67.7,234.1v5.8M67.5,222.2h5.8M70.4,219.3v5.8M70.1,235.4h5.8M73,232.5v5.8M72.7,237.1h5.8M75.6,234.2v5.8M75.2,245h5.8M78.1,242.1v5.8M78.3,265.5h5.8M81.2,262.6v5.8M82.4,252.2h5.8M85.3,249.3v5.8M85.4,271.6h5.8M88.3,268.7v5.8M89.1,267.2h5.8M92,264.3v5.8M91.6,287h5.8M94.5,284.1v5.8M94.6,269.6h5.8M97.5,266.7v5.8M97.3,269.2h5.8M100.2,266.3v5.8M101.4,280.5h5.8M104.3,277.6v5.8M104.6,279h5.8M107.5,276.1v5.8M107.6,281.5h5.8M110.5,278.6v5.8M112.7,285.6h5.8M115.6,282.7v5.8M115.1,290h5.8M118,287.1v5.8M117.8,301h5.8M120.7,298.1v5.8M122.9,297.9h5.8M125.8,295v5.8M126.1,303h5.8M129,300.1v5.8M130.1,307.1h5.8M133,304.2v5.8M133.1,312h5.8M136,309.1v5.8M136.2,317.3h5.8M139.1,314.4v5.8M138.1,321h5.8M141,318.1v5.8M140.3,321.4h5.8M143.2,318.5v5.8M142.1,326h5.8M145,323.1v5.8M144.1,330h5.8M147,327.1v5.8M145.6,333h5.8M148.5,330.1v5.8M147.1,338h5.8M150,335.1v5.8M148.6,340h5.8M151.5,337.1v5.8M150.1,342h5.8M153,339.1v5.8M153.1,343h5.8M156,340.1v5.8M155.1,340h5.8M158,337.1v5.8M156.6,336h5.8M159.5,333.1v5.8M157.6,333h5.8M160.5,330.1v5.8M159.1,338h5.8M162,335.1v5.8" stroke="#ff00ff" stroke-width="0.75" fill="none" clip-path="url(#cd)"/><polyline points="38.5,280 39.2,282.9 41.9,289 43,282 44.3,278.8 45.8,277.5 47.4,276.7 49,278 50.5,275.7 52,273.5 53.5,271.6 55,270 56.6,266.5 58.7,271.6 60.5,271 62.7,270.6 64.2,268.5 65.8,269.6 67.9,274.7 70,273 72,273.7 75,278 78.1,285.9 81.2,288 85.3,287 89.4,278.8 91,281.5 94.1,286.6 99.2,292.7 103,296 106.4,299.9 110.5,303 113.5,308 116.6,313.2 119.5,311 122.7,313.2 126.8,318.3 130,317 133,320.4 136,322 139.1,325.5 141,327 143,330 145,332 147,335 149,337 150,340 152,341 153,343 155,343.5 157,344 160,342" fill="none" stroke="#222" stroke-width="0.75" stroke-linejoin="round" clip-path="url(#cd)"/><path d="M35.6,280h5.8M38.5,277.1v5.8M36.3,282.9h5.8M39.2,280v5.8M39,289h5.8M41.9,286.1v5.8M40.1,282h5.8M43,279.1v5.8M41.4,278.8h5.8M44.3,275.9v5.8M42.9,277.5h5.8M45.8,274.6v5.8M44.5,276.7h5.8M47.4,273.8v5.8M46.1,278h5.8M49,275.1v5.8M47.6,275.7h5.8M50.5,272.8v5.8M49.1,273.5h5.8M52,270.6v5.8M50.6,271.6h5.8M53.5,268.7v5.8M52.1,270h5.8M55,267.1v5.8M53.7,266.5h5.8M56.6,263.6v5.8M55.8,271.6h5.8M58.7,268.7v5.8M57.6,271h5.8M60.5,268.1v5.8M59.8,270.6h5.8M62.7,267.7v5.8M61.3,268.5h5.8M64.2,265.6v5.8M62.9,269.6h5.8M65.8,266.7v5.8M65,274.7h5.8M67.9,271.8v5.8M67.1,273h5.8M70,270.1v5.8M69.1,273.7h5.8M72,270.8v5.8M72.1,278h5.8M75,275.1v5.8M75.2,285.9h5.8M78.1,283v5.8M78.3,288h5.8M81.2,285.1v5.8M82.4,287h5.8M85.3,284.1v5.8M86.5,278.8h5.8M89.4,275.9v5.8M88.1,281.5h5.8M91,278.6v5.8M91.2,286.6h5.8M94.1,283.7v5.8M96.3,292.7h5.8M99.2,289.8v5.8M100.1,296h5.8M103,293.1v5.8M103.5,299.9h5.8M106.4,297v5.8M107.6,303h5.8M110.5,300.1v5.8M110.6,308h5.8M113.5,305.1v5.8M113.7,313.2h5.8M116.6,310.3v5.8M116.6,311h5.8M119.5,308.1v5.8M119.8,313.2h5.8M122.7,310.3v5.8M123.9,318.3h5.8M126.8,315.4v5.8M127.1,317h5.8M130,314.1v5.8M130.1,320.4h5.8M133,317.5v5.8M133.1,322h5.8M136,319.1v5.8M136.2,325.5h5.8M139.1,322.6v5.8M138.1,327h5.8M141,324.1v5.8M140.1,330h5.8M143,327.1v5.8M142.1,332h5.8M145,329.1v5.8M144.1,335h5.8M147,332.1v5.8M146.1,337h5.8M149,334.1v5.8M147.1,340h5.8M150,337.1v5.8M149.1,341h5.8M152,338.1v5.8M150.1,343h5.8M153,340.1v5.8M152.1,343.5h5.8M155,340.6v5.8M154.1,344h5.8M157,341.1v5.8M157.1,342h5.8M160,339.1v5.8" stroke="#222" stroke-width="0.75" fill="none" clip-path="url(#cd)"/><polyline points="40.2,267.5 41.3,259.3 44.3,271.6 47,262 50.5,253.2 53.5,257.3 56.6,251.1 58.7,254.2 61.7,252.2 65.8,246 69.9,258.3 72,262 76,265.5 80.1,266.5 83.2,271.6 87.3,270.6 91.4,273.7 95.5,275.7 98.2,275.4 102.3,291.7 107.4,282.5 110.5,292.7 113.5,290 116.6,293.8 121.7,302 125,300 128.9,297.9 130.9,304 134.5,310 138.1,315.3 140.5,318 141.5,323 143.2,324.5 144.5,328 146,330 147,332 148.5,335 150,338 151.5,339 153,342 154.5,341 156,343.5 157.5,342 158.5,340 160,338 161,336 162.5,339" fill="none" stroke="#1a1aff" stroke-width="0.75" stroke-linejoin="round" clip-path="url(#cd)"/><path d="M37.3,267.5h5.8M40.2,264.6v5.8M38.4,259.3h5.8M41.3,256.4v5.8M41.4,271.6h5.8M44.3,268.7v5.8M44.1,262h5.8M47,259.1v5.8M47.6,253.2h5.8M50.5,250.3v5.8M50.6,257.3h5.8M53.5,254.4v5.8M53.7,251.1h5.8M56.6,248.2v5.8M55.8,254.2h5.8M58.7,251.3v5.8M58.8,252.2h5.8M61.7,249.3v5.8M62.9,246h5.8M65.8,243.1v5.8M67,258.3h5.8M69.9,255.4v5.8M69.1,262h5.8M72,259.1v5.8M73.1,265.5h5.8M76,262.6v5.8M77.2,266.5h5.8M80.1,263.6v5.8M80.3,271.6h5.8M83.2,268.7v5.8M84.4,270.6h5.8M87.3,267.7v5.8M88.5,273.7h5.8M91.4,270.8v5.8M92.6,275.7h5.8M95.5,272.8v5.8M95.3,275.4h5.8M98.2,272.5v5.8M99.4,291.7h5.8M102.3,288.8v5.8M104.5,282.5h5.8M107.4,279.6v5.8M107.6,292.7h5.8M110.5,289.8v5.8M110.6,290h5.8M113.5,287.1v5.8M113.7,293.8h5.8M116.6,290.9v5.8M118.8,302h5.8M121.7,299.1v5.8M122.1,300h5.8M125,297.1v5.8M126,297.9h5.8M128.9,295v5.8M128,304h5.8M130.9,301.1v5.8M131.6,310h5.8M134.5,307.1v5.8M135.2,315.3h5.8M138.1,312.4v5.8M137.6,318h5.8M140.5,315.1v5.8M138.6,323h5.8M141.5,320.1v5.8M140.3,324.5h5.8M143.2,321.6v5.8M141.6,328h5.8M144.5,325.1v5.8M143.1,330h5.8M146,327.1v5.8M144.1,332h5.8M147,329.1v5.8M145.6,335h5.8M148.5,332.1v5.8M147.1,338h5.8M150,335.1v5.8M148.6,339h5.8M151.5,336.1v5.8M150.1,342h5.8M153,339.1v5.8M151.6,341h5.8M154.5,338.1v5.8M153.1,343.5h5.8M156,340.6v5.8M154.6,342h5.8M157.5,339.1v5.8M155.6,340h5.8M158.5,337.1v5.8M157.1,338h5.8M160,335.1v5.8M158.1,336h5.8M161,333.1v5.8M159.6,339h5.8M162.5,336.1v5.8" stroke="#1a1aff" stroke-width="0.75" fill="none" clip-path="url(#cd)"/><line x1="150.4" y1="197.9" x2="150.4" y2="335" stroke="#0000ff" stroke-width="0.95" stroke-dasharray="6.2 2.9"/><line x1="152.1" y1="197.9" x2="152.1" y2="335" stroke="#ff00ff" stroke-width="0.95" stroke-dasharray="6.2 2.9"/><polyline points="206.1,278.7 208.8,274.3 210.5,270.8 211.4,275.2 213.2,279.5 215.8,276 219.3,276.9 222.8,276.9 226.3,277.8 229.8,279.5 233.3,280.4 236.8,281.3 240.4,280.4 241.5,279.2 245.8,281.4 250.2,282.2 255.4,277.8 259,281.4 264.9,281.4 269.2,282.9 275.1,283.6 280.9,285.1 288.2,284.4 293,287 297,288.5 301.8,289.8 305,290.5 308.8,292.1 311,294 313.5,296.8 316.3,303.8 316.6,317.4 318,330 319.5,343 324,340 327,333 330,343" fill="none" stroke="#ff30ff" stroke-width="0.65" stroke-linejoin="round" clip-path="url(#ce)"/><path d="M202.8,278.7h6.6M206.1,275.4v6.6M205.5,274.3h6.6M208.8,271v6.6M207.2,270.8h6.6M210.5,267.5v6.6M208.1,275.2h6.6M211.4,271.9v6.6M209.9,279.5h6.6M213.2,276.2v6.6M212.5,276h6.6M215.8,272.7v6.6M216,276.9h6.6M219.3,273.6v6.6M219.5,276.9h6.6M222.8,273.6v6.6M223,277.8h6.6M226.3,274.5v6.6M226.5,279.5h6.6M229.8,276.2v6.6M230,280.4h6.6M233.3,277.1v6.6M233.5,281.3h6.6M236.8,278v6.6M237.1,280.4h6.6M240.4,277.1v6.6M238.2,279.2h6.6M241.5,275.9v6.6M242.5,281.4h6.6M245.8,278.1v6.6M246.9,282.2h6.6M250.2,278.9v6.6M252.1,277.8h6.6M255.4,274.5v6.6M255.7,281.4h6.6M259,278.1v6.6M261.6,281.4h6.6M264.9,278.1v6.6M265.9,282.9h6.6M269.2,279.6v6.6M271.8,283.6h6.6M275.1,280.3v6.6M277.6,285.1h6.6M280.9,281.8v6.6M284.9,284.4h6.6M288.2,281.1v6.6M289.7,287h6.6M293,283.7v6.6M293.7,288.5h6.6M297,285.2v6.6M298.5,289.8h6.6M301.8,286.5v6.6M301.7,290.5h6.6M305,287.2v6.6M305.5,292.1h6.6M308.8,288.8v6.6M307.7,294h6.6M311,290.7v6.6M310.2,296.8h6.6M313.5,293.5v6.6M313,303.8h6.6M316.3,300.5v6.6M313.3,317.4h6.6M316.6,314.1v6.6M314.7,330h6.6M318,326.7v6.6M316.2,343h6.6M319.5,339.7v6.6M320.7,340h6.6M324,336.7v6.6M323.7,333h6.6M327,329.7v6.6M326.7,343h6.6M330,339.7v6.6" stroke="#ff30ff" stroke-width="0.65" fill="none" clip-path="url(#ce)"/><polyline points="206.8,214 207.6,219 208.6,207.5 210.3,211 212,216 213.5,209.5 215,218 217.6,223 220.2,229.5 222.7,235.5 225.5,238.5 228.2,242 230.5,246.5 233.2,250.5 235.8,252.5 238.5,255.5 241.5,260.2 245.8,261.7 250.2,261.7 254.6,261.7 256.8,260.2 260.5,263.2 263.4,264.6 266.3,266.1 270.7,272.5 273.6,264.6 278,270.5 283.1,273.5 288.2,267.5 292,270 296,273.4 300,276 304.1,278 308.8,282.7 312.3,286.3 315,298 317,315 319,343 323.5,309 330,343" fill="none" stroke="#222" stroke-width="0.65" stroke-linejoin="round" clip-path="url(#ce)"/><path d="M203.5,214h6.6M206.8,210.7v6.6M204.3,219h6.6M207.6,215.7v6.6M205.3,207.5h6.6M208.6,204.2v6.6M207,211h6.6M210.3,207.7v6.6M208.7,216h6.6M212,212.7v6.6M210.2,209.5h6.6M213.5,206.2v6.6M211.7,218h6.6M215,214.7v6.6M214.3,223h6.6M217.6,219.7v6.6M216.9,229.5h6.6M220.2,226.2v6.6M219.4,235.5h6.6M222.7,232.2v6.6M222.2,238.5h6.6M225.5,235.2v6.6M224.9,242h6.6M228.2,238.7v6.6M227.2,246.5h6.6M230.5,243.2v6.6M229.9,250.5h6.6M233.2,247.2v6.6M232.5,252.5h6.6M235.8,249.2v6.6M235.2,255.5h6.6M238.5,252.2v6.6M238.2,260.2h6.6M241.5,256.9v6.6M242.5,261.7h6.6M245.8,258.4v6.6M246.9,261.7h6.6M250.2,258.4v6.6M251.3,261.7h6.6M254.6,258.4v6.6M253.5,260.2h6.6M256.8,256.9v6.6M257.2,263.2h6.6M260.5,259.9v6.6M260.1,264.6h6.6M263.4,261.3v6.6M263,266.1h6.6M266.3,262.8v6.6M267.4,272.5h6.6M270.7,269.2v6.6M270.3,264.6h6.6M273.6,261.3v6.6M274.7,270.5h6.6M278,267.2v6.6M279.8,273.5h6.6M283.1,270.2v6.6M284.9,267.5h6.6M288.2,264.2v6.6M288.7,270h6.6M292,266.7v6.6M292.7,273.4h6.6M296,270.1v6.6M296.7,276h6.6M300,272.7v6.6M300.8,278h6.6M304.1,274.7v6.6M305.5,282.7h6.6M308.8,279.4v6.6M309,286.3h6.6M312.3,283v6.6M311.7,298h6.6M315,294.7v6.6M313.7,315h6.6M317,311.7v6.6M315.7,343h6.6M319,339.7v6.6M320.2,309h6.6M323.5,305.7v6.6M326.7,343h6.6M330,339.7v6.6" stroke="#222" stroke-width="0.65" fill="none" clip-path="url(#ce)"/><polyline points="207.4,213 208.4,209 209.5,216.5 210.6,212 211.6,209.5 212.6,218 213.8,214 214.6,220.6 217.6,222.6 220.7,231.8 222.7,234.9 225.8,239 227.9,243.1 229.9,246.2 232,249.5 234,252.3 237.1,254.4 240.1,256.4 241.5,267.5 243.6,261.5 245.8,271.2 250.2,270.5 256.1,269.7 261.9,271.2 267.8,271.2 272.2,273.4 278,271.9 283.9,274.1 288.2,270.5 293,276 299.4,278 304.6,267.4 307.5,276 310.8,287.3 314.5,298.4 317.5,304 318.5,325 319.5,344 322,336 325.1,328.1 328,338 331,344" fill="none" stroke="#2828ff" stroke-width="0.7" stroke-linejoin="round" clip-path="url(#ce)"/><path d="M204.1,213h6.6M207.4,209.7v6.6M205.1,209h6.6M208.4,205.7v6.6M206.2,216.5h6.6M209.5,213.2v6.6M207.3,212h6.6M210.6,208.7v6.6M208.3,209.5h6.6M211.6,206.2v6.6M209.3,218h6.6M212.6,214.7v6.6M210.5,214h6.6M213.8,210.7v6.6M211.3,220.6h6.6M214.6,217.3v6.6M214.3,222.6h6.6M217.6,219.3v6.6M217.4,231.8h6.6M220.7,228.5v6.6M219.4,234.9h6.6M222.7,231.6v6.6M222.5,239h6.6M225.8,235.7v6.6M224.6,243.1h6.6M227.9,239.8v6.6M226.6,246.2h6.6M229.9,242.9v6.6M228.7,249.5h6.6M232,246.2v6.6M230.7,252.3h6.6M234,249v6.6M233.8,254.4h6.6M237.1,251.1v6.6M236.8,256.4h6.6M240.1,253.1v6.6M238.2,267.5h6.6M241.5,264.2v6.6M240.3,261.5h6.6M243.6,258.2v6.6M242.5,271.2h6.6M245.8,267.9v6.6M246.9,270.5h6.6M250.2,267.2v6.6M252.8,269.7h6.6M256.1,266.4v6.6M258.6,271.2h6.6M261.9,267.9v6.6M264.5,271.2h6.6M267.8,267.9v6.6M268.9,273.4h6.6M272.2,270.1v6.6M274.7,271.9h6.6M278,268.6v6.6M280.6,274.1h6.6M283.9,270.8v6.6M284.9,270.5h6.6M288.2,267.2v6.6M289.7,276h6.6M293,272.7v6.6M296.1,278h6.6M299.4,274.7v6.6M301.3,267.4h6.6M304.6,264.1v6.6M304.2,276h6.6M307.5,272.7v6.6M307.5,287.3h6.6M310.8,284v6.6M311.2,298.4h6.6M314.5,295.1v6.6M314.2,304h6.6M317.5,300.7v6.6M315.2,325h6.6M318.5,321.7v6.6M316.2,344h6.6M319.5,340.7v6.6M318.7,336h6.6M322,332.7v6.6M321.8,328.1h6.6M325.1,324.8v6.6M324.7,338h6.6M328,334.7v6.6M327.7,344h6.6M331,340.7v6.6" stroke="#2828ff" stroke-width="0.7" fill="none" clip-path="url(#ce)"/><line x1="192" y1="268.6" x2="331" y2="268.6" stroke="#0000ff" stroke-width="1.8" stroke-dasharray="2.0 0.7"/><line x1="192" y1="289.9" x2="331" y2="289.9" stroke="#ff00ff" stroke-width="1.5" stroke-dasharray="2.0 0.7"/><line x1="313.7" y1="197.3" x2="313.7" y2="344.2" stroke="#444" stroke-width="0.8" stroke-dasharray="2.5 1.2 0.8 1.2"/><line x1="318.4" y1="197.9" x2="318.4" y2="344.2" stroke="#0000ff" stroke-width="0.95" stroke-dasharray="6.2 2.9"/><line x1="320.3" y1="197.9" x2="320.3" y2="344.2" stroke="#ff00ff" stroke-width="0.95" stroke-dasharray="6.2 2.9"/><line x1="313.3" y1="305" x2="331" y2="305" stroke="#0000ff" stroke-width="2.4" /><line x1="313.3" y1="306.9" x2="331" y2="306.9" stroke="#ff00ff" stroke-width="2.0" /><line x1="256.4" y1="244" x2="202.65" y2="265.85" stroke="#111" stroke-width="0.8" /><path d="M200.8,266.6L205.28,266.21L203.76,265.4L204.28,263.75Z" fill="#111" stroke="#111" stroke-width="0.3"/><line x1="257.4" y1="248.1" x2="225.9" y2="284.78" stroke="#111" stroke-width="0.8" /><path d="M224.6,286.3L228.41,283.9L226.68,283.87L226.39,282.17Z" fill="#111" stroke="#111" stroke-width="0.3"/><line x1="280.4" y1="306.8" x2="305.8" y2="306.06" stroke="#111" stroke-width="0.8" /><path d="M307.8,306L303.46,304.8L304.6,306.09L303.54,307.45Z" fill="#111" stroke="#111" stroke-width="0.3"/><rect x="23.5" y="197.3" width="140.2" height="147.8" fill="none" stroke="#111" stroke-width="1.25"/><line x1="23.5" y1="345.1" x2="23.5" y2="340.6" stroke="#222" stroke-width="0.9" /><line x1="23.5" y1="197.3" x2="23.5" y2="201.8" stroke="#222" stroke-width="0.9" /><line x1="31.3" y1="345.1" x2="31.3" y2="342.6" stroke="#222" stroke-width="0.9" /><line x1="31.3" y1="197.3" x2="31.3" y2="199.8" stroke="#222" stroke-width="0.9" /><line x1="39.1" y1="345.1" x2="39.1" y2="342.6" stroke="#222" stroke-width="0.9" /><line x1="39.1" y1="197.3" x2="39.1" y2="199.8" stroke="#222" stroke-width="0.9" /><line x1="46.9" y1="345.1" x2="46.9" y2="342.6" stroke="#222" stroke-width="0.9" /><line x1="46.9" y1="197.3" x2="46.9" y2="199.8" stroke="#222" stroke-width="0.9" /><line x1="54.7" y1="345.1" x2="54.7" y2="340.6" stroke="#222" stroke-width="0.9" /><line x1="54.7" y1="197.3" x2="54.7" y2="201.8" stroke="#222" stroke-width="0.9" /><line x1="62.5" y1="345.1" x2="62.5" y2="342.6" stroke="#222" stroke-width="0.9" /><line x1="62.5" y1="197.3" x2="62.5" y2="199.8" stroke="#222" stroke-width="0.9" /><line x1="70.3" y1="345.1" x2="70.3" y2="342.6" stroke="#222" stroke-width="0.9" /><line x1="70.3" y1="197.3" x2="70.3" y2="199.8" stroke="#222" stroke-width="0.9" /><line x1="78.1" y1="345.1" x2="78.1" y2="342.6" stroke="#222" stroke-width="0.9" /><line x1="78.1" y1="197.3" x2="78.1" y2="199.8" stroke="#222" stroke-width="0.9" /><line x1="85.9" y1="345.1" x2="85.9" y2="340.6" stroke="#222" stroke-width="0.9" /><line x1="85.9" y1="197.3" x2="85.9" y2="201.8" stroke="#222" stroke-width="0.9" /><line x1="93.7" y1="345.1" x2="93.7" y2="342.6" stroke="#222" stroke-width="0.9" /><line x1="93.7" y1="197.3" x2="93.7" y2="199.8" stroke="#222" stroke-width="0.9" /><line x1="101.5" y1="345.1" x2="101.5" y2="342.6" stroke="#222" stroke-width="0.9" /><line x1="101.5" y1="197.3" x2="101.5" y2="199.8" stroke="#222" stroke-width="0.9" /><line x1="109.3" y1="345.1" x2="109.3" y2="342.6" stroke="#222" stroke-width="0.9" /><line x1="109.3" y1="197.3" x2="109.3" y2="199.8" stroke="#222" stroke-width="0.9" /><line x1="117.1" y1="345.1" x2="117.1" y2="340.6" stroke="#222" stroke-width="0.9" /><line x1="117.1" y1="197.3" x2="117.1" y2="201.8" stroke="#222" stroke-width="0.9" /><line x1="124.9" y1="345.1" x2="124.9" y2="342.6" stroke="#222" stroke-width="0.9" /><line x1="124.9" y1="197.3" x2="124.9" y2="199.8" stroke="#222" stroke-width="0.9" /><line x1="132.7" y1="345.1" x2="132.7" y2="342.6" stroke="#222" stroke-width="0.9" /><line x1="132.7" y1="197.3" x2="132.7" y2="199.8" stroke="#222" stroke-width="0.9" /><line x1="140.5" y1="345.1" x2="140.5" y2="342.6" stroke="#222" stroke-width="0.9" /><line x1="140.5" y1="197.3" x2="140.5" y2="199.8" stroke="#222" stroke-width="0.9" /><line x1="148.3" y1="345.1" x2="148.3" y2="340.6" stroke="#222" stroke-width="0.9" /><line x1="148.3" y1="197.3" x2="148.3" y2="201.8" stroke="#222" stroke-width="0.9" /><line x1="156.1" y1="345.1" x2="156.1" y2="342.6" stroke="#222" stroke-width="0.9" /><line x1="156.1" y1="197.3" x2="156.1" y2="199.8" stroke="#222" stroke-width="0.9" /><line x1="23.5" y1="345.1" x2="28" y2="345.1" stroke="#222" stroke-width="0.9" /><line x1="163.7" y1="345.1" x2="159.2" y2="345.1" stroke="#222" stroke-width="0.9" /><line x1="23.5" y1="340.23" x2="26" y2="340.23" stroke="#222" stroke-width="0.9" /><line x1="163.7" y1="340.23" x2="161.2" y2="340.23" stroke="#222" stroke-width="0.9" /><line x1="23.5" y1="335.35" x2="26" y2="335.35" stroke="#222" stroke-width="0.9" /><line x1="163.7" y1="335.35" x2="161.2" y2="335.35" stroke="#222" stroke-width="0.9" /><line x1="23.5" y1="330.48" x2="26" y2="330.48" stroke="#222" stroke-width="0.9" /><line x1="163.7" y1="330.48" x2="161.2" y2="330.48" stroke="#222" stroke-width="0.9" /><line x1="23.5" y1="325.6" x2="28" y2="325.6" stroke="#222" stroke-width="0.9" /><line x1="163.7" y1="325.6" x2="159.2" y2="325.6" stroke="#222" stroke-width="0.9" /><line x1="23.5" y1="320.73" x2="26" y2="320.73" stroke="#222" stroke-width="0.9" /><line x1="163.7" y1="320.73" x2="161.2" y2="320.73" stroke="#222" stroke-width="0.9" /><line x1="23.5" y1="315.85" x2="26" y2="315.85" stroke="#222" stroke-width="0.9" /><line x1="163.7" y1="315.85" x2="161.2" y2="315.85" stroke="#222" stroke-width="0.9" /><line x1="23.5" y1="310.98" x2="26" y2="310.98" stroke="#222" stroke-width="0.9" /><line x1="163.7" y1="310.98" x2="161.2" y2="310.98" stroke="#222" stroke-width="0.9" /><line x1="23.5" y1="306.1" x2="28" y2="306.1" stroke="#222" stroke-width="0.9" /><line x1="163.7" y1="306.1" x2="159.2" y2="306.1" stroke="#222" stroke-width="0.9" /><line x1="23.5" y1="301.23" x2="26" y2="301.23" stroke="#222" stroke-width="0.9" /><line x1="163.7" y1="301.23" x2="161.2" y2="301.23" stroke="#222" stroke-width="0.9" /><line x1="23.5" y1="296.35" x2="26" y2="296.35" stroke="#222" stroke-width="0.9" /><line x1="163.7" y1="296.35" x2="161.2" y2="296.35" stroke="#222" stroke-width="0.9" /><line x1="23.5" y1="291.48" x2="26" y2="291.48" stroke="#222" stroke-width="0.9" /><line x1="163.7" y1="291.48" x2="161.2" y2="291.48" stroke="#222" stroke-width="0.9" /><line x1="23.5" y1="286.6" x2="28" y2="286.6" stroke="#222" stroke-width="0.9" /><line x1="163.7" y1="286.6" x2="159.2" y2="286.6" stroke="#222" stroke-width="0.9" /><line x1="23.5" y1="281.73" x2="26" y2="281.73" stroke="#222" stroke-width="0.9" /><line x1="163.7" y1="281.73" x2="161.2" y2="281.73" stroke="#222" stroke-width="0.9" /><line x1="23.5" y1="276.85" x2="26" y2="276.85" stroke="#222" stroke-width="0.9" /><line x1="163.7" y1="276.85" x2="161.2" y2="276.85" stroke="#222" stroke-width="0.9" /><line x1="23.5" y1="271.98" x2="26" y2="271.98" stroke="#222" stroke-width="0.9" /><line x1="163.7" y1="271.98" x2="161.2" y2="271.98" stroke="#222" stroke-width="0.9" /><line x1="23.5" y1="267.1" x2="28" y2="267.1" stroke="#222" stroke-width="0.9" /><line x1="163.7" y1="267.1" x2="159.2" y2="267.1" stroke="#222" stroke-width="0.9" /><line x1="23.5" y1="262.23" x2="26" y2="262.23" stroke="#222" stroke-width="0.9" /><line x1="163.7" y1="262.23" x2="161.2" y2="262.23" stroke="#222" stroke-width="0.9" /><line x1="23.5" y1="257.35" x2="26" y2="257.35" stroke="#222" stroke-width="0.9" /><line x1="163.7" y1="257.35" x2="161.2" y2="257.35" stroke="#222" stroke-width="0.9" /><line x1="23.5" y1="252.48" x2="26" y2="252.48" stroke="#222" stroke-width="0.9" /><line x1="163.7" y1="252.48" x2="161.2" y2="252.48" stroke="#222" stroke-width="0.9" /><line x1="23.5" y1="247.6" x2="28" y2="247.6" stroke="#222" stroke-width="0.9" /><line x1="163.7" y1="247.6" x2="159.2" y2="247.6" stroke="#222" stroke-width="0.9" /><line x1="23.5" y1="242.73" x2="26" y2="242.73" stroke="#222" stroke-width="0.9" /><line x1="163.7" y1="242.73" x2="161.2" y2="242.73" stroke="#222" stroke-width="0.9" /><line x1="23.5" y1="237.85" x2="26" y2="237.85" stroke="#222" stroke-width="0.9" /><line x1="163.7" y1="237.85" x2="161.2" y2="237.85" stroke="#222" stroke-width="0.9" /><line x1="23.5" y1="232.98" x2="26" y2="232.98" stroke="#222" stroke-width="0.9" /><line x1="163.7" y1="232.98" x2="161.2" y2="232.98" stroke="#222" stroke-width="0.9" /><line x1="23.5" y1="228.1" x2="28" y2="228.1" stroke="#222" stroke-width="0.9" /><line x1="163.7" y1="228.1" x2="159.2" y2="228.1" stroke="#222" stroke-width="0.9" /><line x1="23.5" y1="223.23" x2="26" y2="223.23" stroke="#222" stroke-width="0.9" /><line x1="163.7" y1="223.23" x2="161.2" y2="223.23" stroke="#222" stroke-width="0.9" /><line x1="23.5" y1="218.35" x2="26" y2="218.35" stroke="#222" stroke-width="0.9" /><line x1="163.7" y1="218.35" x2="161.2" y2="218.35" stroke="#222" stroke-width="0.9" /><line x1="23.5" y1="213.48" x2="26" y2="213.48" stroke="#222" stroke-width="0.9" /><line x1="163.7" y1="213.48" x2="161.2" y2="213.48" stroke="#222" stroke-width="0.9" /><line x1="23.5" y1="208.6" x2="28" y2="208.6" stroke="#222" stroke-width="0.9" /><line x1="163.7" y1="208.6" x2="159.2" y2="208.6" stroke="#222" stroke-width="0.9" /><line x1="23.5" y1="203.73" x2="26" y2="203.73" stroke="#222" stroke-width="0.9" /><line x1="163.7" y1="203.73" x2="161.2" y2="203.73" stroke="#222" stroke-width="0.9" /><line x1="23.5" y1="198.85" x2="26" y2="198.85" stroke="#222" stroke-width="0.9" /><line x1="163.7" y1="198.85" x2="161.2" y2="198.85" stroke="#222" stroke-width="0.9" /><rect x="192.0" y="197.3" width="139.0" height="146.89999999999998" fill="none" stroke="#111" stroke-width="1.25"/><line x1="192" y1="344.2" x2="192" y2="339.7" stroke="#222" stroke-width="0.9" /><line x1="192" y1="197.3" x2="192" y2="201.8" stroke="#222" stroke-width="0.9" /><line x1="199.9" y1="344.2" x2="199.9" y2="341.7" stroke="#222" stroke-width="0.9" /><line x1="199.9" y1="197.3" x2="199.9" y2="199.8" stroke="#222" stroke-width="0.9" /><line x1="207.8" y1="344.2" x2="207.8" y2="341.7" stroke="#222" stroke-width="0.9" /><line x1="207.8" y1="197.3" x2="207.8" y2="199.8" stroke="#222" stroke-width="0.9" /><line x1="215.7" y1="344.2" x2="215.7" y2="341.7" stroke="#222" stroke-width="0.9" /><line x1="215.7" y1="197.3" x2="215.7" y2="199.8" stroke="#222" stroke-width="0.9" /><line x1="223.6" y1="344.2" x2="223.6" y2="339.7" stroke="#222" stroke-width="0.9" /><line x1="223.6" y1="197.3" x2="223.6" y2="201.8" stroke="#222" stroke-width="0.9" /><line x1="231.5" y1="344.2" x2="231.5" y2="341.7" stroke="#222" stroke-width="0.9" /><line x1="231.5" y1="197.3" x2="231.5" y2="199.8" stroke="#222" stroke-width="0.9" /><line x1="239.4" y1="344.2" x2="239.4" y2="341.7" stroke="#222" stroke-width="0.9" /><line x1="239.4" y1="197.3" x2="239.4" y2="199.8" stroke="#222" stroke-width="0.9" /><line x1="247.3" y1="344.2" x2="247.3" y2="341.7" stroke="#222" stroke-width="0.9" /><line x1="247.3" y1="197.3" x2="247.3" y2="199.8" stroke="#222" stroke-width="0.9" /><line x1="255.2" y1="344.2" x2="255.2" y2="339.7" stroke="#222" stroke-width="0.9" /><line x1="255.2" y1="197.3" x2="255.2" y2="201.8" stroke="#222" stroke-width="0.9" /><line x1="263.1" y1="344.2" x2="263.1" y2="341.7" stroke="#222" stroke-width="0.9" /><line x1="263.1" y1="197.3" x2="263.1" y2="199.8" stroke="#222" stroke-width="0.9" /><line x1="271" y1="344.2" x2="271" y2="341.7" stroke="#222" stroke-width="0.9" /><line x1="271" y1="197.3" x2="271" y2="199.8" stroke="#222" stroke-width="0.9" /><line x1="278.9" y1="344.2" x2="278.9" y2="341.7" stroke="#222" stroke-width="0.9" /><line x1="278.9" y1="197.3" x2="278.9" y2="199.8" stroke="#222" stroke-width="0.9" /><line x1="286.8" y1="344.2" x2="286.8" y2="339.7" stroke="#222" stroke-width="0.9" /><line x1="286.8" y1="197.3" x2="286.8" y2="201.8" stroke="#222" stroke-width="0.9" /><line x1="294.7" y1="344.2" x2="294.7" y2="341.7" stroke="#222" stroke-width="0.9" /><line x1="294.7" y1="197.3" x2="294.7" y2="199.8" stroke="#222" stroke-width="0.9" /><line x1="302.6" y1="344.2" x2="302.6" y2="341.7" stroke="#222" stroke-width="0.9" /><line x1="302.6" y1="197.3" x2="302.6" y2="199.8" stroke="#222" stroke-width="0.9" /><line x1="310.5" y1="344.2" x2="310.5" y2="341.7" stroke="#222" stroke-width="0.9" /><line x1="310.5" y1="197.3" x2="310.5" y2="199.8" stroke="#222" stroke-width="0.9" /><line x1="318.4" y1="344.2" x2="318.4" y2="339.7" stroke="#222" stroke-width="0.9" /><line x1="318.4" y1="197.3" x2="318.4" y2="201.8" stroke="#222" stroke-width="0.9" /><line x1="326.3" y1="344.2" x2="326.3" y2="341.7" stroke="#222" stroke-width="0.9" /><line x1="326.3" y1="197.3" x2="326.3" y2="199.8" stroke="#222" stroke-width="0.9" /><line x1="192" y1="344.2" x2="196.5" y2="344.2" stroke="#222" stroke-width="0.9" /><line x1="331" y1="344.2" x2="326.5" y2="344.2" stroke="#222" stroke-width="0.9" /><line x1="192" y1="335.02" x2="194.5" y2="335.02" stroke="#222" stroke-width="0.9" /><line x1="331" y1="335.02" x2="328.5" y2="335.02" stroke="#222" stroke-width="0.9" /><line x1="192" y1="325.85" x2="194.5" y2="325.85" stroke="#222" stroke-width="0.9" /><line x1="331" y1="325.85" x2="328.5" y2="325.85" stroke="#222" stroke-width="0.9" /><line x1="192" y1="316.68" x2="194.5" y2="316.68" stroke="#222" stroke-width="0.9" /><line x1="331" y1="316.68" x2="328.5" y2="316.68" stroke="#222" stroke-width="0.9" /><line x1="192" y1="307.5" x2="196.5" y2="307.5" stroke="#222" stroke-width="0.9" /><line x1="331" y1="307.5" x2="326.5" y2="307.5" stroke="#222" stroke-width="0.9" /><line x1="192" y1="298.32" x2="194.5" y2="298.32" stroke="#222" stroke-width="0.9" /><line x1="331" y1="298.32" x2="328.5" y2="298.32" stroke="#222" stroke-width="0.9" /><line x1="192" y1="289.15" x2="194.5" y2="289.15" stroke="#222" stroke-width="0.9" /><line x1="331" y1="289.15" x2="328.5" y2="289.15" stroke="#222" stroke-width="0.9" /><line x1="192" y1="279.97" x2="194.5" y2="279.97" stroke="#222" stroke-width="0.9" /><line x1="331" y1="279.97" x2="328.5" y2="279.97" stroke="#222" stroke-width="0.9" /><line x1="192" y1="270.8" x2="196.5" y2="270.8" stroke="#222" stroke-width="0.9" /><line x1="331" y1="270.8" x2="326.5" y2="270.8" stroke="#222" stroke-width="0.9" /><line x1="192" y1="261.62" x2="194.5" y2="261.62" stroke="#222" stroke-width="0.9" /><line x1="331" y1="261.62" x2="328.5" y2="261.62" stroke="#222" stroke-width="0.9" /><line x1="192" y1="252.45" x2="194.5" y2="252.45" stroke="#222" stroke-width="0.9" /><line x1="331" y1="252.45" x2="328.5" y2="252.45" stroke="#222" stroke-width="0.9" /><line x1="192" y1="243.27" x2="194.5" y2="243.27" stroke="#222" stroke-width="0.9" /><line x1="331" y1="243.27" x2="328.5" y2="243.27" stroke="#222" stroke-width="0.9" /><line x1="192" y1="234.1" x2="196.5" y2="234.1" stroke="#222" stroke-width="0.9" /><line x1="331" y1="234.1" x2="326.5" y2="234.1" stroke="#222" stroke-width="0.9" /><line x1="192" y1="224.92" x2="194.5" y2="224.92" stroke="#222" stroke-width="0.9" /><line x1="331" y1="224.92" x2="328.5" y2="224.92" stroke="#222" stroke-width="0.9" /><line x1="192" y1="215.75" x2="194.5" y2="215.75" stroke="#222" stroke-width="0.9" /><line x1="331" y1="215.75" x2="328.5" y2="215.75" stroke="#222" stroke-width="0.9" /><line x1="192" y1="206.57" x2="194.5" y2="206.57" stroke="#222" stroke-width="0.9" /><line x1="331" y1="206.57" x2="328.5" y2="206.57" stroke="#222" stroke-width="0.9" /><line x1="192" y1="197.4" x2="196.5" y2="197.4" stroke="#222" stroke-width="0.9" /><line x1="331" y1="197.4" x2="326.5" y2="197.4" stroke="#222" stroke-width="0.9" /><text x="19.9" y="212.2" font-size="10" fill="#111" stroke="#111" stroke-width="0.08" text-anchor="end" >1.4</text><text x="19.9" y="231.7" font-size="10" fill="#111" stroke="#111" stroke-width="0.08" text-anchor="end" >1.2</text><text x="19.9" y="251.2" font-size="10" fill="#111" stroke="#111" stroke-width="0.08" text-anchor="end" >1.0</text><text x="19.9" y="270.7" font-size="10" fill="#111" stroke="#111" stroke-width="0.08" text-anchor="end" >0.8</text><text x="19.9" y="290.2" font-size="10" fill="#111" stroke="#111" stroke-width="0.08" text-anchor="end" >0.6</text><text x="19.9" y="309.7" font-size="10" fill="#111" stroke="#111" stroke-width="0.08" text-anchor="end" >0.4</text><text x="19.9" y="329.2" font-size="10" fill="#111" stroke="#111" stroke-width="0.08" text-anchor="end" >0.2</text><text x="19.9" y="348.6" font-size="10" fill="#111" stroke="#111" stroke-width="0.08" text-anchor="end" >0.0</text><text x="28.4" y="355.6" font-size="10" fill="#111" stroke="#111" stroke-width="0.08" text-anchor="middle" >3.0</text><text x="55.2" y="355.6" font-size="10" fill="#111" stroke="#111" stroke-width="0.08" text-anchor="middle" >3.2</text><text x="86.9" y="355.6" font-size="10" fill="#111" stroke="#111" stroke-width="0.08" text-anchor="middle" >3.4</text><text x="116.4" y="355.6" font-size="10" fill="#111" stroke="#111" stroke-width="0.08" text-anchor="middle" >3.6</text><text x="138.6" y="355.6" font-size="10" fill="#111" stroke="#111" stroke-width="0.08" text-anchor="start" >R<tspan font-size="6" dy="2.5">maj</tspan><tspan dy="-2.5">[m]</tspan></text><text x="87.2" y="216.9" font-size="10" fill="#000" stroke="#000" stroke-width="0.12" text-anchor="start" ><tspan font-weight="bold">d)</tspan> T<tspan font-size="5.5" dy="2.4" stroke-width="0" fill="#555">e</tspan><tspan dy="-2.4"> (keV)</tspan></text><text x="37.4" y="313.3" font-size="9" fill="#ff00ff" stroke="#ff00ff" stroke-width="0.12" text-anchor="start" >t=10.75 s</text><text x="37.4" y="324.4" font-size="9" fill="#222" stroke="#222" stroke-width="0.12" text-anchor="start" >t=16.88 s</text><text x="37.4" y="335.5" font-size="9" fill="#0000ff" stroke="#0000ff" stroke-width="0.12" text-anchor="start" >t=18.08 s</text><text x="189.2" y="202.8" font-size="10" fill="#111" stroke="#111" stroke-width="0.08" text-anchor="end" >8</text><text x="189.2" y="237" font-size="10" fill="#111" stroke="#111" stroke-width="0.08" text-anchor="end" >6</text><text x="189.2" y="273" font-size="10" fill="#111" stroke="#111" stroke-width="0.08" text-anchor="end" >4</text><text x="189.2" y="312.5" font-size="10" fill="#111" stroke="#111" stroke-width="0.08" text-anchor="end" >2</text><text x="189.2" y="344.2" font-size="10" fill="#111" stroke="#111" stroke-width="0.08" text-anchor="end" >0</text><text x="196.7" y="355.6" font-size="10" fill="#111" stroke="#111" stroke-width="0.08" text-anchor="middle" >3.0</text><text x="222.7" y="355.6" font-size="10" fill="#111" stroke="#111" stroke-width="0.08" text-anchor="middle" >3.2</text><text x="255.2" y="355.6" font-size="10" fill="#111" stroke="#111" stroke-width="0.08" text-anchor="middle" >3.4</text><text x="287.3" y="355.6" font-size="10" fill="#111" stroke="#111" stroke-width="0.08" text-anchor="middle" >3.6</text><text x="310.2" y="355.4" font-size="10" fill="#111" stroke="#111" stroke-width="0.08" text-anchor="start" >R<tspan font-size="6" dy="2.5">maj</tspan><tspan dy="-2.5">[m]</tspan></text><text x="234.8" y="217.5" font-size="10.4" fill="#000" stroke="#000" stroke-width="0.18" text-anchor="start" >e) n<tspan font-size="7" dy="2.2" stroke-width="0.1">e</tspan><tspan dy="-2.2"> [10</tspan><tspan font-size="7.2" dy="-3.6">19</tspan><tspan dy="3.6"> m</tspan><tspan font-size="7.2" dy="-3.6">-3</tspan><tspan dy="3.6">]</tspan></text><text x="261.1" y="246.4" font-size="10" fill="#000" stroke="#000" stroke-width="0.18" text-anchor="start" >core n<tspan font-size="5.5" dy="1.2" dx="2" stroke-width="0">e</tspan></text><line x1="284.4" y1="238.8" x2="289.8" y2="238.8" stroke="#222" stroke-width="0.8" /><text x="240.3" y="309.4" font-size="10" fill="#000" stroke="#000" stroke-width="0.18" text-anchor="start" >edge n<tspan font-size="5.5" dy="1.2" dx="2" stroke-width="0">e</tspan></text><line x1="266" y1="301.6" x2="271.4" y2="301.6" stroke="#222" stroke-width="0.8" />
</svg></body></html>
